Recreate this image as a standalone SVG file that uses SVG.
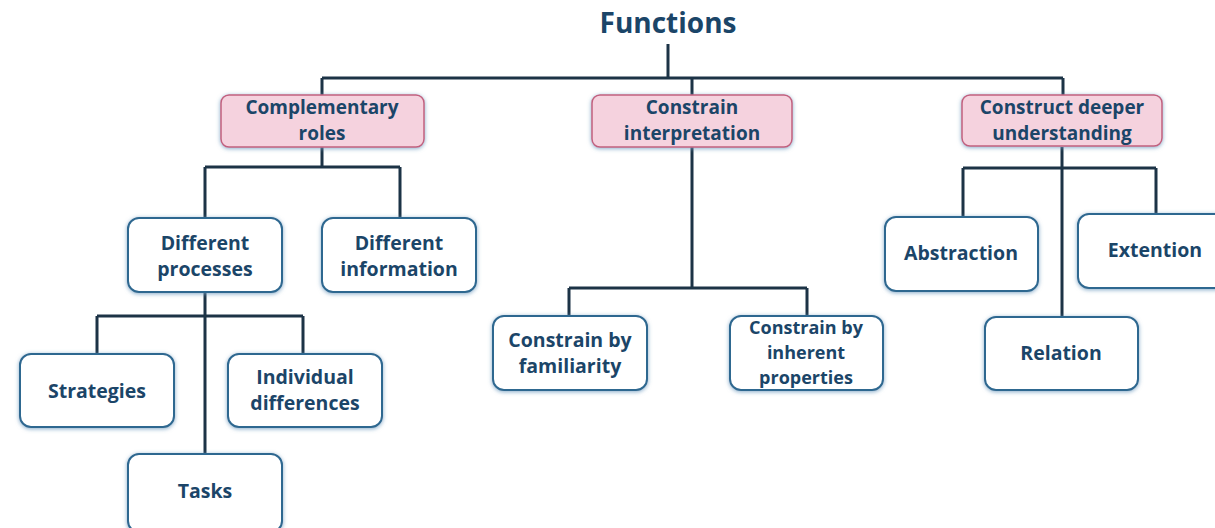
<svg xmlns="http://www.w3.org/2000/svg" width="1215" height="528" viewBox="0 0 1215 528">
<defs>
<filter id="sh" x="-10%" y="-10%" width="120%" height="130%">
<feDropShadow dx="0" dy="1" stdDeviation="2.2" flood-color="#6f9cc0" flood-opacity="0.85"/>
</filter>
<style>
.t{font-family:"Open Sans","Liberation Sans",sans-serif;font-weight:bold;fill:#1b4568;font-size:19.5px;text-anchor:middle}
.p{font-size:19px}
.box{fill:#ffffff;stroke:#2f6890;stroke-width:2;filter:url(#sh)}
.pink{fill:#f5d2de;stroke:#c2607e;stroke-width:1.5;filter:url(#sh)}
.ln{fill:none;stroke:#1c3346;stroke-width:3}
</style>
</defs>
<rect width="1215" height="528" fill="#ffffff"/>
<g id="connectors">
<path class="ln" d="M668 44V78M322 78H1063M322 78V95M692 78V95M1063 78V95"/>
<path class="ln" d="M322 147V167M205 167H400M205 167V218M400 167V218"/>
<path class="ln" d="M205 292V454M97 316H303M97 316V354M303 316V354"/>
<path class="ln" d="M692 147V288M569 288H807M569 288V316M807 288V316"/>
<path class="ln" d="M1062 147V317M963 168H1156M963 168V217M1156 168V214"/>
</g>
<g id="functions"><text class="t" x="668" y="33" style="font-size:28px">Functions</text></g>
<g id="complementary"><rect class="pink" x="221" y="95" width="203" height="52" rx="8"/><text class="t p" x="322" y="114">Complementary</text><text class="t p" x="322" y="140">roles</text></g>
<g id="constrain"><rect class="pink" x="592" y="95" width="200" height="52" rx="8"/><text class="t p" x="692" y="114">Constrain</text><text class="t p" x="692" y="140">interpretation</text></g>
<g id="construct"><rect class="pink" x="962" y="95" width="200" height="51" rx="8"/><text class="t p" x="1062" y="114">Construct deeper</text><text class="t p" x="1062" y="140">understanding</text></g>
<g id="diffproc"><rect class="box" x="128" y="218" width="154" height="74" rx="11"/><text class="t" x="205" y="250">Different</text><text class="t" x="205" y="276">processes</text></g>
<g id="diffinfo"><rect class="box" x="322" y="218" width="154" height="74" rx="11"/><text class="t" x="399" y="250">Different</text><text class="t" x="399" y="276">information</text></g>
<g id="strategies"><rect class="box" x="20" y="354" width="154" height="73" rx="11"/><text class="t" x="97" y="398">Strategies</text></g>
<g id="individual"><rect class="box" x="228" y="354" width="154" height="73" rx="11"/><text class="t" x="305" y="384">Individual</text><text class="t" x="305" y="410">differences</text></g>
<g id="tasks"><rect class="box" x="128" y="454" width="154" height="78" rx="11"/><text class="t" x="205" y="498">Tasks</text></g>
<g id="familiarity"><rect class="box" x="493" y="316" width="154" height="74" rx="11"/><text class="t" x="570" y="347">Constrain by</text><text class="t" x="570" y="373">familiarity</text></g>
<g id="inherent"><rect class="box" x="730" y="316" width="153" height="74" rx="11"/><text class="t" x="806" y="334" style="font-size:18px">Constrain by</text><text class="t" x="806" y="359" style="font-size:18px">inherent</text><text class="t" x="806" y="384" style="font-size:18px">properties</text></g>
<g id="abstraction"><rect class="box" x="885" y="217" width="153" height="74" rx="11"/><text class="t" x="961" y="260">Abstraction</text></g>
<g id="extention"><rect class="box" x="1078" y="214" width="154" height="74" rx="11"/><text class="t" x="1155" y="257">Extention</text></g>
<g id="relation"><rect class="box" x="985" y="317" width="153" height="73" rx="11"/><text class="t" x="1061" y="360">Relation</text></g>
</svg>
